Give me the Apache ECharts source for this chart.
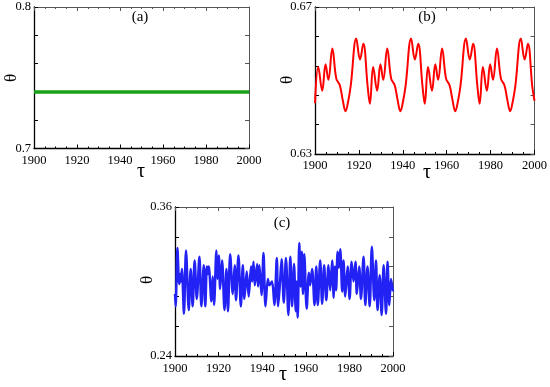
<!DOCTYPE html>
<html><head><meta charset="utf-8">
<script src="https://cdn.jsdelivr.net/npm/echarts@6/dist/echarts.min.js"></script>
<style>html,body{margin:0;padding:0;background:#fff}#c{width:550px;height:387px}</style>
</head><body><div id="c"></div>
<script>
// ---- data ----
const tauMin = 1900, tauMax = 2000;
const tauTickStep = 20;

const aTau = [1900, 2000];
const aTheta = [0.74, 0.74];
const aYTicks = [0.7, 0.72, 0.74, 0.76, 0.78, 0.8];
const aYLabels = [0.7, 0.8];

const bTau = [1900.0,1901.5,1903.3,1904.8,1906.1,1907.9,1909.7,1911.3,1912.6,1913.9,1915.1,1916.3,1918.8,1920.5,1922.0,1924.0,1925.0,
  1926.5,1928.3,1929.8,1931.1,1932.9,1934.7,1936.3,1937.6,1938.9,1940.1,1941.3,1943.8,1945.5,1947.0,1949.0,1950.0,
  1951.5,1953.3,1954.8,1956.1,1957.9,1959.7,1961.3,1962.6,1963.9,1965.1,1966.3,1968.8,1970.5,1972.0,1974.0,1975.0,
  1976.5,1978.3,1979.8,1981.1,1982.9,1984.7,1986.3,1987.6,1988.9,1990.1,1991.3,1993.8,1995.5,1997.0,1999.0,2000.0];
const bTheta = [0.6438,0.6537,0.6472,0.6544,0.6502,0.6587,0.6505,0.6487,0.6448,0.6416,0.6443,0.6487,0.6614,0.6557,0.6600,0.6483,0.6437,
  0.6537,0.6472,0.6544,0.6502,0.6587,0.6505,0.6487,0.6448,0.6416,0.6443,0.6487,0.6614,0.6557,0.6600,0.6483,0.6437,
  0.6537,0.6472,0.6544,0.6502,0.6587,0.6505,0.6487,0.6448,0.6416,0.6443,0.6487,0.6614,0.6557,0.6600,0.6483,0.6437,
  0.6537,0.6472,0.6544,0.6502,0.6587,0.6505,0.6487,0.6448,0.6416,0.6443,0.6487,0.6614,0.6557,0.6600,0.6483,0.6445];
const bYTicks = [0.63, 0.638, 0.646, 0.654, 0.662, 0.67];
const bYLabels = [0.63, 0.67];

const cTau = [1900.0,1900.3,1901.1,1901.7,1902.0,1902.5,1902.8,1903.2,1904.1,1905.05,1906.3,1907.2,1908.1,1909.0,1910.0,1911.2,1912.1,1913.2,1913.9,1914.6,1915.0,1915.5,1916.7,1917.3,1917.9,1919.0,1919.5,1920.1,1920.7,1921.6,1922.7,1923.6,1924.3,
  1925.3,1926.5,1927.4,1928.0,1929.1,1930.2,1931.1,1931.8,1932.9,1933.8,1934.9,1935.4,1936.0,1936.6,1937.7,1938.1,1938.7,1939.7,1940.6,1941.5,1942.6,1943.3,1944.5,1945.6,1946.7,1947.3,1948.2,
  1948.9,1949.9,1950.9,1952.0,1952.9,1953.7,1954.6,1955.4,1955.8,1956.3,1957.0,1957.6,1958.2,1958.7,1959.3,1960.4,
  1961.4,1962.0,1962.9,1964.0,1964.8,1965.5,1966.6,1967.5,1968.4,1969.4,1970.4,1971.2,1972.1,1972.8,1973.4,1973.9,
  1974.6,1975.2,1975.8,1976.7,1977.3,1978.1,1979.2,1980.1,1981.0,1981.9,1982.8,1983.4,1984.5,1985.3,1986.5,1987.3,1988.3,1989.3,1990.3,1991.4,1992.2,1992.9,1993.9,1994.8,1995.7,1996.8,1997.5,1998.3,1999.1,2000.0];
const cTheta = [0.290,0.280,0.327,0.302,0.298,0.306,0.300,0.310,0.274,0.325,0.277,0.310,0.280,0.317,0.286,0.320,0.280,0.313,0.280,0.312,0.306,0.312,0.284,0.304,0.281,0.325,0.302,0.321,0.294,0.317,0.277,0.310,0.276,
  0.322,0.290,0.313,0.285,0.321,0.280,0.313,0.286,0.308,0.288,0.312,0.300,0.316,0.297,0.314,0.296,0.313,0.289,0.323,0.280,0.302,0.297,0.300,0.281,0.319,0.280,0.300,
  0.318,0.283,0.319,0.273,0.320,0.280,0.314,0.276,0.300,0.271,0.331,0.296,0.324,0.290,0.322,0.278,
  0.307,0.297,0.310,0.281,0.312,0.281,0.317,0.282,0.313,0.285,0.313,0.293,0.317,0.287,0.312,0.293,
  0.324,0.311,0.326,0.292,0.317,0.288,0.312,0.286,0.316,0.300,0.316,0.290,0.312,0.286,0.320,0.281,0.312,0.280,0.328,0.285,0.317,0.277,0.305,0.273,0.313,0.274,0.316,0.281,0.302,0.292];
const cYTicks = [0.24, 0.264, 0.288, 0.312, 0.336, 0.36];
const cYLabels = [0.24, 0.36];

// ---- chart ----
const FONT = 'Liberation Serif';
const grids = [
  {left: 34, top: 7, width: 215, height: 141.5},
  {left: 315, top: 7, width: 220, height: 147},
  {left: 175, top: 207, width: 218, height: 149}
];
const xAxes = [], yAxes = [];
function addAxes(gi, yMin, yMax, yTicks, yLabels, xMargin) {
  const common = {gridIndex: gi, type: 'value', splitLine: {show: false}};
  xAxes.push(Object.assign({}, common, {position: 'bottom', min: tauMin, max: tauMax, interval: tauTickStep,
    axisLine: {show: true, onZero: false, lineStyle: {color: '#000', width: 1.3}},
    axisTick: {inside: true, length: 4, lineStyle: {color: '#000'}},
    minorTick: {show: true, splitNumber: 4, length: 2, lineStyle: {color: '#000'}},
    axisLabel: {margin: xMargin, fontFamily: FONT, fontSize: 12.5, color: '#000', formatter: v => String(v)}}));
  xAxes.push(Object.assign({}, common, {position: 'top', min: tauMin, max: tauMax, interval: tauTickStep,
    axisLine: {show: true, onZero: false, lineStyle: {color: '#555', width: 1}},
    axisTick: {inside: true, length: 4, lineStyle: {color: '#555'}},
    minorTick: {show: true, splitNumber: 4, length: 2, lineStyle: {color: '#555'}},
    axisLabel: {show: false}}));
  yAxes.push(Object.assign({}, common, {position: 'left', min: yMin, max: yMax,
    axisLine: {show: true, onZero: false, lineStyle: {color: '#000', width: 1.3}},
    axisTick: {inside: true, length: 4, customValues: yTicks, lineStyle: {color: '#000'}},
    axisLabel: {margin: 3, customValues: yLabels, fontFamily: FONT, fontSize: 12.5, color: '#000', formatter: v => String(v)}}));
  yAxes.push(Object.assign({}, common, {position: 'right', min: yMin, max: yMax,
    axisLine: {show: true, onZero: false, lineStyle: {color: '#555', width: 1}},
    axisTick: {inside: true, length: 4, customValues: yTicks, lineStyle: {color: '#555'}},
    axisLabel: {show: false}}));
}
addAxes(0, 0.7, 0.8, aYTicks, aYLabels, 6);
addAxes(1, 0.63, 0.67, bYTicks, bYLabels, 5);
addAxes(2, 0.24, 0.36, cYTicks, cYLabels, 6);

function pairs(xs, ys) { return xs.map((x, i) => [x, ys[i]]); }

function txt(x, y, s, size, rot) {
  return {type: 'text', x: x, y: y, rotation: rot || 0,
    style: {text: s, fontFamily: FONT, fontSize: size, fill: '#000', align: 'center', verticalAlign: 'middle'}};
}

const chart = echarts.init(document.getElementById('c'), null, {renderer: 'canvas'});
chart.setOption({
  animation: false,
  backgroundColor: '#fff',
  grid: grids,
  xAxis: xAxes,
  yAxis: yAxes,
  series: [
    {type: 'line', xAxisIndex: 0, yAxisIndex: 0, data: pairs(aTau, aTheta), showSymbol: false,
      lineStyle: {color: '#17a017', width: 3.5}},
    {type: 'line', xAxisIndex: 2, yAxisIndex: 2, data: pairs(bTau, bTheta), showSymbol: false, smooth: 0.4,
      lineStyle: {color: '#ff0000', width: 2}},
    {type: 'line', xAxisIndex: 4, yAxisIndex: 4, data: pairs(cTau, cTheta), showSymbol: false, smooth: 0.3,
      lineStyle: {color: '#2222f5', width: 2.5}}
  ],
  graphic: [
    txt(140, 17, '(a)', 15), txt(427, 17, '(b)', 15), txt(282, 223, '(c)', 15),
    txt(12, 78, 'θ', 17, Math.PI / 2), txt(288, 80, 'θ', 17, Math.PI / 2), txt(148, 280, 'θ', 17, Math.PI / 2),
    txt(141, 172, 'τ', 20), txt(427, 173, 'τ', 20), txt(283, 375, 'τ', 20)
  ]
});
</script>
</body></html>
